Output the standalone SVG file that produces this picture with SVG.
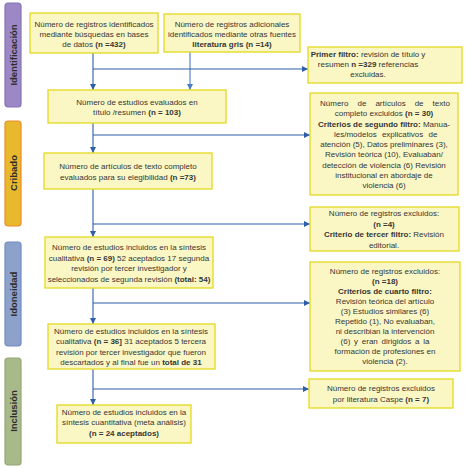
<svg xmlns="http://www.w3.org/2000/svg" width="468" height="468" viewBox="0 0 468 468">
<defs>
<marker id="ah" viewBox="0 0 6 6" refX="6" refY="3" markerWidth="6" markerHeight="6" markerUnits="userSpaceOnUse" orient="auto">
<path d="M0,0 L6,3 L0,6 z" fill="#2f5ea8"/>
</marker>
<marker id="ah2" viewBox="0 0 6 6" refX="6" refY="3" markerWidth="6" markerHeight="6" markerUnits="userSpaceOnUse" orient="auto">
<path d="M0,0 L6,3 L0,6 z" fill="#4a7cc4"/>
</marker>
</defs>
<style>
.box{fill:#faf7c4;stroke:#e3d91f;stroke-width:1.3}
.t{font-family:"Liberation Sans",Arial,sans-serif;font-size:8px;fill:#363636;text-anchor:middle}
.s{text-anchor:start}
.b{font-weight:bold}
.side{stroke-width:1.2}
.st{font-family:"Liberation Sans",Arial,sans-serif;font-size:9.5px;font-weight:bold;fill:#2d2d2d;text-anchor:middle}
.c{fill:none;stroke:#2f5ea8;stroke-width:1.1}
.c2{fill:none;stroke:#4a7cc4;stroke-width:1.1}
</style>
<rect width="468" height="468" fill="#ffffff"/>

<g id="phases">
<g id="phase-identificacion">
<rect class="side" x="5" y="3" width="16" height="104" rx="3" fill="#9b88c5" stroke="#8573b3"/>
<text class="st" transform="translate(16.5,55) rotate(-90)">Identificación</text>
</g>
<g id="phase-cribado">
<rect class="side" x="5" y="121" width="16" height="105" rx="3" fill="#e9b92d" stroke="#ea8a2a"/>
<text class="st" transform="translate(16.5,173) rotate(-90)">Cribado</text>
</g>
<g id="phase-idoneidad">
<rect class="side" x="5" y="242" width="16" height="104" rx="3" fill="#8da2cb" stroke="#6f8cbf"/>
<text class="st" transform="translate(16.5,294) rotate(-90)">Idoneidad</text>
</g>
<g id="phase-inclusion">
<rect class="side" x="5" y="358" width="16" height="107" rx="3" fill="#a8b98a" stroke="#93a874"/>
<text class="st" transform="translate(16.5,411) rotate(-90)">Inclusión</text>
</g>
</g>

<g id="connectors">
<line class="c" x1="93" y1="53" x2="93" y2="90" marker-end="url(#ah)"/>
<line class="c2" x1="190" y1="52" x2="190" y2="90" marker-end="url(#ah2)"/>
<line class="c" x1="93" y1="69" x2="308" y2="69" marker-end="url(#ah)"/>
<line class="c" x1="93" y1="123" x2="93" y2="153" marker-end="url(#ah)"/>
<line class="c" x1="93" y1="135" x2="310" y2="135" marker-end="url(#ah)"/>
<line class="c" x1="93" y1="189" x2="93" y2="237" marker-end="url(#ah)"/>
<line class="c" x1="93" y1="224" x2="310" y2="224" marker-end="url(#ah)"/>
<line class="c" x1="93" y1="288" x2="93" y2="324" marker-end="url(#ah)"/>
<line class="c" x1="93" y1="303" x2="310" y2="303" marker-end="url(#ah)"/>
<line class="c" x1="93" y1="369" x2="93" y2="405" marker-end="url(#ah)"/>
<line class="c" x1="93" y1="389" x2="309" y2="389" marker-end="url(#ah)"/>
</g>

<g id="n1">
<rect class="box" x="30" y="13" width="128" height="40"/>
<text class="t" x="94" y="27">Número de registros identificados</text>
<text class="t" x="94" y="37">mediante búsquedas en bases</text>
<text class="t" x="94" y="47">de datos <tspan class="b">(n =432)</tspan></text>
</g>

<g id="n2">
<rect class="box" x="164" y="14" width="136" height="38"/>
<text class="t" x="232" y="27">Número de registros adicionales</text>
<text class="t" x="232" y="37">identificados mediante otras fuentes</text>
<text class="t b" x="232" y="47">literatura gris (n =14)</text>
</g>

<g id="n3">
<rect class="box" x="308" y="47" width="154" height="36"/>
<text class="t" x="368" y="57"><tspan class="b">Primer filtro:</tspan> revisión de título y</text>
<text class="t" x="368" y="67">resumen <tspan class="b">n =329</tspan> referencias</text>
<text class="t" x="368" y="77">excluidas.</text>
</g>

<g id="n4">
<rect class="box" x="48" y="90" width="178" height="33"/>
<text class="t" x="137" y="105">Número de estudios evaluados en</text>
<text class="t" x="137" y="115">título /resumen <tspan class="b">(n = 103)</tspan></text>
</g>

<g id="n5">
<rect class="box" x="310" y="93" width="148" height="102"/>
<text class="t s" x="320" y="106" word-spacing="6.8">Número de artículos de texto</text>
<text class="t" x="384" y="116.3">completo excluidos <tspan class="b">(n = 30)</tspan></text>
<text class="t" x="384" y="126.5"><tspan class="b">Criterios de segundo filtro:</tspan> Manua-</text>
<text class="t s" x="334" y="136.8" word-spacing="3">les/modelos explicativos de</text>
<text class="t" x="384" y="147">atención (5), Datos preliminares (3),</text>
<text class="t" x="384" y="157.3">Revisión teórica (10), Evaluaban/</text>
<text class="t" x="384" y="167.5">detección de violencia (6) Revisión</text>
<text class="t" x="384" y="177.8">institucional en abordaje de</text>
<text class="t" x="384" y="188">violencia (6)</text>
</g>

<g id="n6">
<rect class="box" x="44" y="153" width="168" height="36"/>
<text class="t" x="128" y="169">Número de artículos de texto completo</text>
<text class="t" x="128" y="180">evaluados para su elegibilidad <tspan class="b">(n =73)</tspan></text>
</g>

<g id="n7">
<rect class="box" x="310" y="207" width="149" height="44"/>
<text class="t" x="384" y="216">Número de registros excluidos:</text>
<text class="t b" x="384" y="226.5">(n =4)</text>
<text class="t" x="384" y="237"><tspan class="b">Criterio de tercer filtro:</tspan> Revisión</text>
<text class="t" x="384" y="247.5">editorial.</text>
</g>

<g id="n8">
<rect class="box" x="45" y="237" width="168" height="51"/>
<text class="t" x="129" y="250">Número de estudios incluidos en la síntesis</text>
<text class="t" x="129" y="260.5">cualitativa <tspan class="b">(n = 69)</tspan> 52 aceptados 17 segunda</text>
<text class="t" x="129" y="271">revisión por tercer investigador y</text>
<text class="t" x="129" y="281.5">seleccionados de segunda revisión <tspan class="b">(total: 54)</tspan></text>
</g>

<g id="n9">
<rect class="box" x="310" y="262" width="150" height="109"/>
<text class="t" x="385" y="274">Número de registros excluidos:</text>
<text class="t b" x="385" y="284">(n =18)</text>
<text class="t b" x="385" y="294">Criterios de cuarto filtro:</text>
<text class="t" x="385" y="304">Revisión teórica del artículo</text>
<text class="t" x="385" y="314">(3) Estudios similares (6)</text>
<text class="t" x="385" y="324">Repetido (1), No evaluaban,</text>
<text class="t" x="385" y="334">ni describian la intervención</text>
<text class="t" x="385" y="344" word-spacing="1.5">(6) y eran dirigidos a la</text>
<text class="t" x="385" y="354">formación de profesiones en</text>
<text class="t" x="385" y="364">violencia (2).</text>
</g>

<g id="n10">
<rect class="box" x="48" y="324" width="167" height="45"/>
<text class="t" x="131" y="333.5">Número de estudios incluidos en la síntesis</text>
<text class="t" x="131" y="344">cualitativa <tspan class="b">(n = 36]</tspan> 31 aceptados 5 tercera</text>
<text class="t" x="131" y="354.5">revisión por tercer investigador que fueron</text>
<text class="t" x="131" y="365">descartados y al final fue un <tspan class="b">total de  31</tspan></text>
</g>

<g id="n11">
<rect class="box" x="309" y="379" width="144" height="29"/>
<text class="t" x="381" y="391">Número de registros excluidos</text>
<text class="t" x="381" y="402">por literatura Caspe <tspan class="b">(n = 7)</tspan></text>
</g>

<g id="n12">
<rect class="box" x="57" y="405" width="134" height="38"/>
<text class="t" x="124" y="414.5">Número de estudios incluidos en la</text>
<text class="t" x="124" y="425">síntesis cuantitativa (meta análisis)</text>
<text class="t b" x="124" y="435.5">(n = 24 aceptados)</text>
</g>
</svg>
